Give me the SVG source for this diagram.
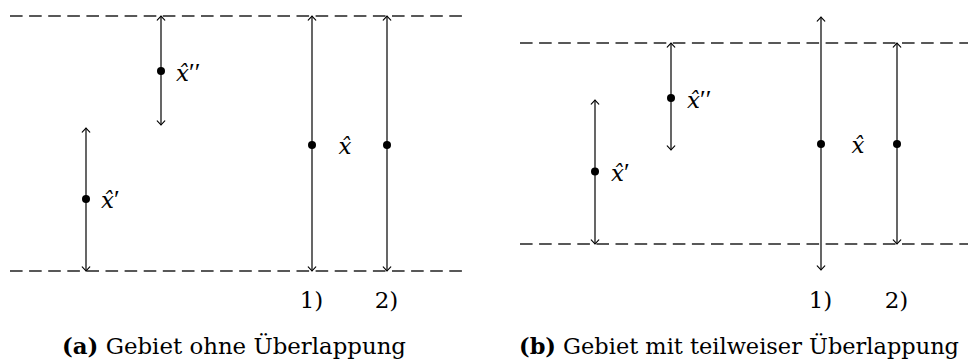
<svg xmlns="http://www.w3.org/2000/svg" width="968" height="362" viewBox="0 0 968 362">
<defs>
<marker id="arr" viewBox="-6 -5 7 10" refX="0" refY="0" markerWidth="7" markerHeight="10" markerUnits="userSpaceOnUse" orient="auto-start-reverse" overflow="visible">
<path d="M -4.2 -3.8 Q -1.2 -0.9 0 0 Q -1.2 0.9 -4.2 3.8" fill="none" stroke="#000" stroke-width="1.1" stroke-linecap="round"/>
</marker>
</defs>
<style>
.dash{stroke:#222;stroke-width:1.3;stroke-dasharray:12.6 6.5;fill:none}
.arw{stroke:#000;stroke-width:1.2;fill:none;marker-start:url(#arr);marker-end:url(#arr)}
.dot{fill:#000}
.math{font-family:"DejaVu Serif","Liberation Serif",serif;font-style:italic;font-size:23px;fill:#000}
.pr{font-family:"Liberation Serif","DejaVu Serif",serif;font-style:normal;font-size:26px}
.num{font-family:"DejaVu Serif","Liberation Serif",serif;font-size:23px;fill:#000;text-anchor:middle}
.cap{font-family:"DejaVu Serif","Liberation Serif",serif;font-size:22.4px;fill:#000}
.b{font-weight:bold}
</style>

<g id="panel-a">
<g id="a-bounds">
<line class="dash" x1="10" y1="16" x2="463" y2="16"/>
<line class="dash" x1="10" y1="271" x2="463" y2="271"/>
</g>
<g id="a-connectors">
<line class="arw" x1="161" y1="16" x2="161" y2="125"/>
<line class="arw" x1="86" y1="128" x2="86" y2="271"/>
<line class="arw" x1="312" y1="16" x2="312" y2="271"/>
<line class="arw" x1="387" y1="16" x2="387" y2="271"/>
</g>
<g id="a-xpp"><circle class="dot" cx="161" cy="71" r="4"/><text class="math" x="176" y="81">x̂<tspan class="pr">′′</tspan></text></g>
<g id="a-xp"><circle class="dot" cx="86" cy="199" r="4"/><text class="math" x="101" y="208">x̂<tspan class="pr">′</tspan></text></g>
<g id="a-x1"><circle class="dot" cx="312" cy="145" r="4"/></g>
<g id="a-x2"><circle class="dot" cx="387" cy="145" r="4"/></g>
<g id="a-xhat"><text class="math" x="345" y="154" text-anchor="middle">x̂</text></g>
<g id="a-l1"><text class="num" x="311.5" y="308">1)</text></g>
<g id="a-l2"><text class="num" x="386.5" y="308">2)</text></g>
<g id="a-caption"><text class="cap" x="62" y="354" textLength="344" lengthAdjust="spacingAndGlyphs"><tspan class="b">(a)</tspan> Gebiet ohne Überlappung</text></g>
</g>

<g id="panel-b">
<g id="b-bounds">
<line class="dash" x1="520" y1="43" x2="975" y2="43"/>
<line class="dash" x1="520" y1="244" x2="975" y2="244"/>
</g>
<g id="b-connectors">
<line class="arw" x1="595" y1="100" x2="595" y2="244"/>
<line class="arw" x1="671" y1="43" x2="671" y2="150"/>
<line class="arw" x1="821" y1="17" x2="821" y2="270"/>
<line class="arw" x1="897" y1="43" x2="897" y2="244"/>
</g>
<g id="b-xp"><circle class="dot" cx="595" cy="171.5" r="4"/><text class="math" x="611" y="181">x̂<tspan class="pr">′</tspan></text></g>
<g id="b-xpp"><circle class="dot" cx="671" cy="98" r="4"/><text class="math" x="687" y="108">x̂<tspan class="pr">′′</tspan></text></g>
<g id="b-x1"><circle class="dot" cx="821" cy="144" r="4"/></g>
<g id="b-x2"><circle class="dot" cx="897" cy="144" r="4"/></g>
<g id="b-xhat"><text class="math" x="858" y="153" text-anchor="middle">x̂</text></g>
<g id="b-l1"><text class="num" x="820.5" y="308">1)</text></g>
<g id="b-l2"><text class="num" x="896.5" y="308">2)</text></g>
<g id="b-caption"><text class="cap" x="519" y="354" textLength="440" lengthAdjust="spacingAndGlyphs"><tspan class="b">(b)</tspan> Gebiet mit teilweiser Überlappung</text></g>
</g>
</svg>
